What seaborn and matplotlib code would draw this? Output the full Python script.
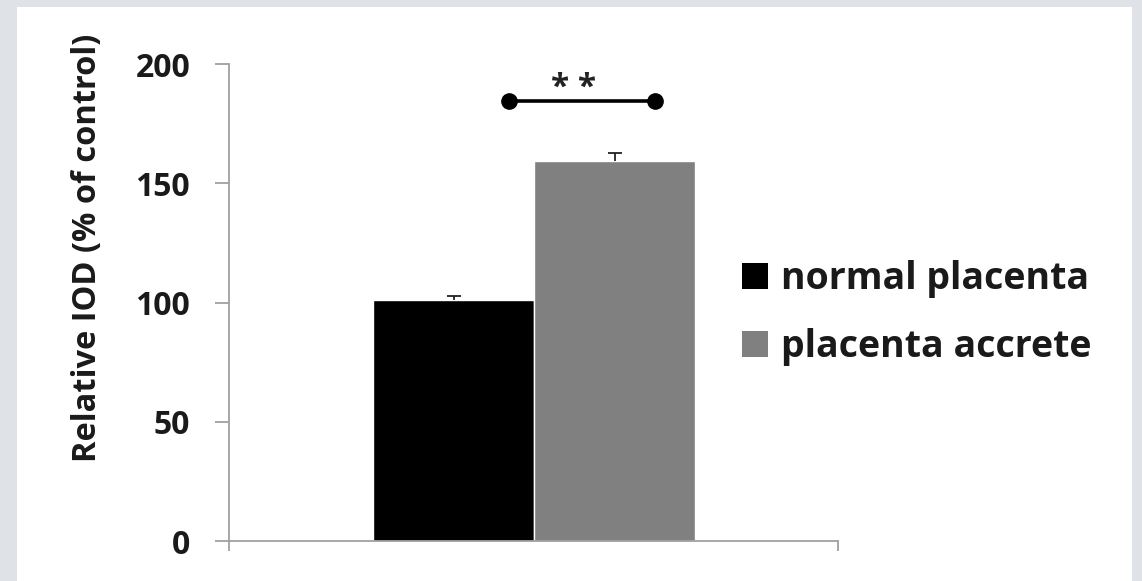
import matplotlib
matplotlib.use("Agg")
import matplotlib.pyplot as plt
from matplotlib.patches import Rectangle
import seaborn as sns
import pandas as pd

# ---- data ----
groups = ["normal placenta", "placenta accrete"]
values = [101, 159.5]
errors = [1.8, 3]
yticks = [0, 50, 100, 150, 200]
sig_label = "* *"
sig_y = 184.5
y_label = "Relative IOD (% of control)"

colors = ["#000000", "#808080"]

sns.set_theme(style="white")
plt.rcParams["font.family"] = ["Open Sans", "DejaVu Sans"]
plt.rcParams["font.weight"] = "bold"

df = pd.DataFrame({"cat": ["c"] * len(groups), "group": groups, "value": values})

fig = plt.figure(figsize=(11.42, 5.81), dpi=100)
fig.patch.set_facecolor("#dfe3e7")
fig.add_artist(Rectangle((17 / 1142, 0), (1132 - 17) / 1142, 1 - 7 / 581,
                         transform=fig.transFigure, facecolor="white",
                         edgecolor="none", zorder=0))

ax = fig.add_axes([229 / 1142, 1 - 541 / 581, (838 - 229) / 1142, (541 - 64) / 581])
ax.set_facecolor("none")

sns.barplot(data=df, x="cat", y="value", hue="group", hue_order=groups,
            palette=colors, width=0.8, saturation=1, errorbar=None,
            legend=False, ax=ax)

patches = ax.patches[:len(groups)]
for p, v, e in zip(patches, values, errors):
    cx = p.get_x() + p.get_width() / 2
    _, caps, _ = ax.errorbar([cx], [v], yerr=[[0], [e]], fmt="none", ecolor="#222222",
                             elinewidth=1.3, capsize=5, capthick=1.3, zorder=3)
    caps[0].set_visible(False)

# significance bracket
x0 = -0.062
x1 = 0.30
ax.plot([x0, x1], [sig_y, sig_y], color="black", lw=2.6, marker="o",
        markersize=11, clip_on=False, zorder=4)
ax.text((x0 + x1) / 2 - 0.02, sig_y - 1.5, sig_label, ha="center", va="bottom",
        fontsize=24, fontweight="bold", color="#222222")

xmin, xmax = -0.758, 0.755
ax.set_xlim(xmin, xmax)
ax.set_ylim(0, 200)
ax.set_yticks(yticks)
ax.set_yticklabels([str(t) for t in yticks], fontsize=23, fontweight="bold", color="#1a1a1a")
ax.set_xticks([xmin, xmax])
ax.set_xticklabels(["", ""])
ax.set_xlabel("")
ax.set_ylabel(y_label, fontsize=23.5, fontweight="bold", color="#1a1a1a")
ax.yaxis.set_label_coords(-0.205, 0.615)

for s in ["top", "right"]:
    ax.spines[s].set_visible(False)
for s in ["left", "bottom"]:
    ax.spines[s].set_color("#a0a0a0")
    ax.spines[s].set_linewidth(1.3)
ax.tick_params(axis="y", direction="out", length=10, width=1.3, color="#a0a0a0",
               left=True, pad=18)
ax.tick_params(axis="x", direction="out", length=7, width=1.3, color="#a0a0a0",
               bottom=True)

# legend
handles = [Rectangle((0, 0), 1, 1, facecolor=c, edgecolor="none") for c in colors]
leg = fig.legend(handles, groups, loc="center left",
                 bbox_to_anchor=(742 / 1142, 1 - 313 / 581), frameon=False,
                 prop={"family": ["Open Sans", "DejaVu Sans"], "weight": "bold", "size": 27},
                 handlelength=0.69, handleheight=0.69, handletextpad=0.35,
                 labelspacing=0.8, borderaxespad=0, borderpad=0)
for t in leg.get_texts():
    t.set_color("#1a1a1a")

fig.savefig("out.png", dpi=100, facecolor=fig.get_facecolor())
